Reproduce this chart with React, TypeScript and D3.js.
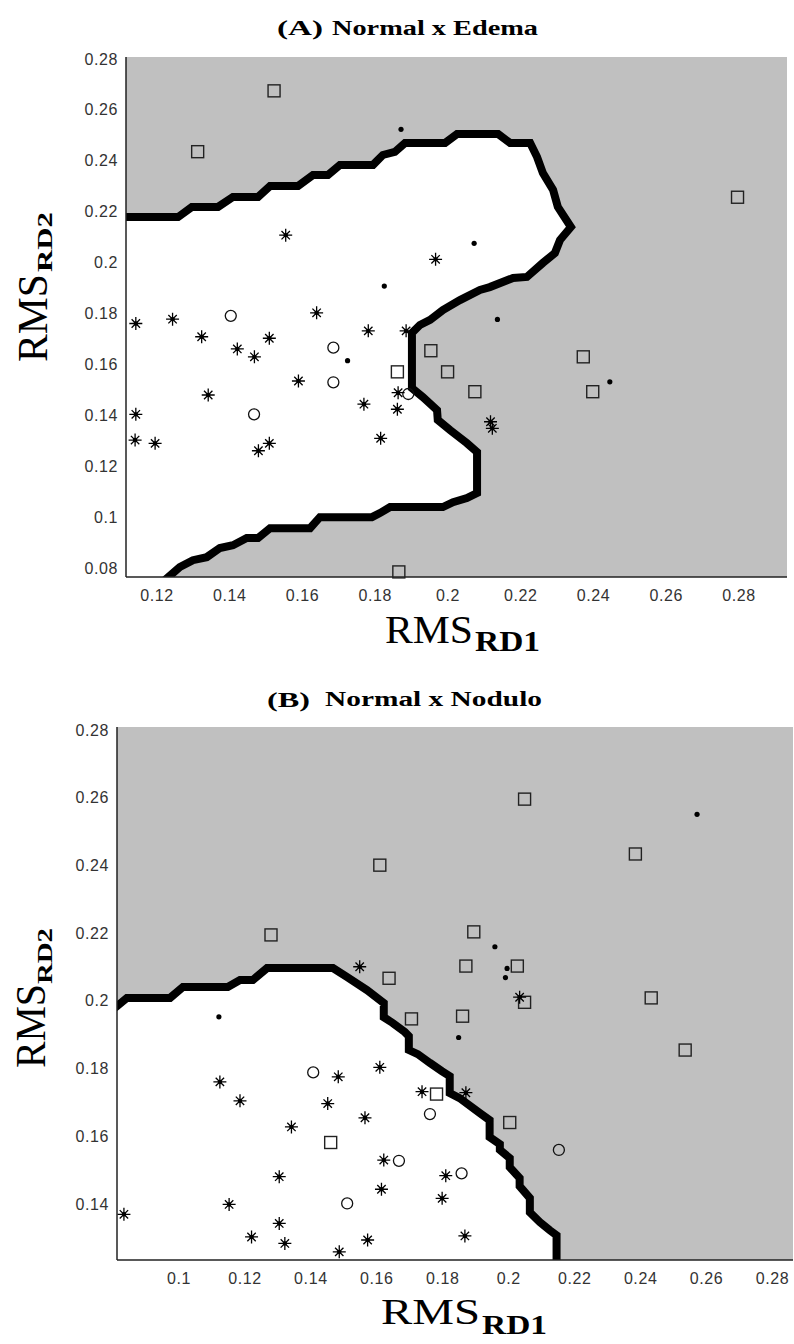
import React from 'react';
import * as d3 from 'd3';

type P = [number, number];

// ---------- Panel A : Normal x Edema ----------
const squaresA: P[] = [
  [0.1522, 0.2675], [0.1312, 0.2436], [0.2796, 0.2257], [0.1861, 0.1571], [0.1953, 0.1654],
  [0.1999, 0.1571], [0.2074, 0.1493], [0.2372, 0.1630], [0.2398, 0.1493], [0.1865, 0.0785],
];
const dotsA: P[] = [
  [0.1871, 0.2524], [0.2072, 0.2076], [0.1825, 0.1908], [0.2136, 0.1777], [0.1724, 0.1615], [0.2445, 0.1532],
];
const circlesA: P[] = [
  [0.1403, 0.1791], [0.1685, 0.1666], [0.1685, 0.1530], [0.1467, 0.1404], [0.1891, 0.1484],
];
const starsA: P[] = [
  [0.1554, 0.2108], [0.1966, 0.2013], [0.1142, 0.1761], [0.1243, 0.1778], [0.1639, 0.1803],
  [0.1323, 0.1709], [0.1509, 0.1703], [0.1421, 0.1661], [0.1468, 0.1630], [0.1781, 0.1732],
  [0.1885, 0.1732], [0.1589, 0.1535], [0.1341, 0.1480], [0.1142, 0.1404], [0.1140, 0.1303],
  [0.1195, 0.1290], [0.1509, 0.1290], [0.1479, 0.1261], [0.1769, 0.1444], [0.1815, 0.1310],
  [0.1863, 0.1489], [0.1861, 0.1424], [0.2117, 0.1375], [0.2122, 0.1349],
];
const boundaryA: P[] = [
  [0.1100, 0.2179], [0.1258, 0.2179], [0.1296, 0.2219], [0.1368, 0.2219], [0.1409, 0.2258],
  [0.1478, 0.2258], [0.1511, 0.2301], [0.1588, 0.2301], [0.1629, 0.2344], [0.1670, 0.2344],
  [0.1703, 0.2384], [0.1794, 0.2384], [0.1821, 0.2423], [0.1854, 0.2435], [0.1882, 0.2470],
  [0.1992, 0.2470], [0.2025, 0.2505], [0.2138, 0.2505], [0.2171, 0.2470], [0.2226, 0.2470],
  [0.2245, 0.2415], [0.2261, 0.2352], [0.2289, 0.2286], [0.2302, 0.2219], [0.2338, 0.2140],
  [0.2308, 0.2089], [0.2294, 0.2038], [0.2261, 0.1999], [0.2217, 0.1944], [0.2179, 0.1940],
  [0.2115, 0.1904], [0.2088, 0.1893], [0.2033, 0.1853], [0.1986, 0.1814], [0.1951, 0.1775],
  [0.1923, 0.1755], [0.1901, 0.1724], [0.1901, 0.1507], [0.1931, 0.1472], [0.1970, 0.1421],
  [0.1972, 0.1382], [0.2006, 0.1342], [0.2052, 0.1291], [0.2080, 0.1256], [0.2080, 0.1095],
  [0.2052, 0.1075], [0.2014, 0.1059], [0.1986, 0.1040], [0.1841, 0.1040], [0.1813, 0.1016],
  [0.1791, 0.1000], [0.1648, 0.1000], [0.1621, 0.0957], [0.1511, 0.0957], [0.1478, 0.0918],
  [0.1447, 0.0918], [0.1409, 0.0890], [0.1373, 0.0879], [0.1337, 0.0843], [0.1299, 0.0831],
  [0.1263, 0.0804], [0.1222, 0.0753],
];
const xTicksA = [0.12, 0.14, 0.16, 0.18, 0.2, 0.22, 0.24, 0.26, 0.28];
const yTicksA = [0.08, 0.1, 0.12, 0.14, 0.16, 0.18, 0.2, 0.22, 0.24, 0.26, 0.28];

// ---------- Panel B : Normal x Nodulo ----------
const squaresB: P[] = [
  [0.1279, 0.2195], [0.1609, 0.2401], [0.1637, 0.2067], [0.2048, 0.2596], [0.2384, 0.2434],
  [0.1894, 0.2204], [0.1870, 0.2103], [0.2026, 0.2103], [0.2048, 0.1996], [0.2432, 0.2009],
  [0.1705, 0.1947], [0.1860, 0.1955], [0.2535, 0.1855], [0.1781, 0.1725], [0.2003, 0.1641],
  [0.1460, 0.1582],
];
const dotsB: P[] = [
  [0.2571, 0.2551], [0.1958, 0.2160], [0.1995, 0.2096], [0.1990, 0.2069], [0.1848, 0.1892], [0.1121, 0.1953],
];
const circlesB: P[] = [
  [0.1407, 0.1789], [0.1761, 0.1666], [0.2152, 0.1560], [0.1667, 0.1528], [0.1857, 0.1491], [0.1510, 0.1402],
];
const starsB: P[] = [
  [0.1548, 0.2101], [0.2033, 0.2011], [0.1609, 0.1804], [0.1483, 0.1776], [0.1124, 0.1761],
  [0.1185, 0.1705], [0.1451, 0.1697], [0.1564, 0.1655], [0.1341, 0.1628], [0.1737, 0.1732],
  [0.1870, 0.1729], [0.1621, 0.1530], [0.1809, 0.1484], [0.1304, 0.1481], [0.1614, 0.1444],
  [0.1798, 0.1417], [0.1152, 0.1399], [0.0833, 0.1370], [0.1304, 0.1343], [0.1220, 0.1303],
  [0.1321, 0.1284], [0.1486, 0.1259], [0.1572, 0.1294], [0.1867, 0.1306],
];
const boundaryB: P[] = [
  [0.0800, 0.1975], [0.0842, 0.2009], [0.0973, 0.2009], [0.1012, 0.2041], [0.1148, 0.2041],
  [0.1185, 0.2062], [0.1224, 0.2062], [0.1267, 0.2097], [0.1467, 0.2097], [0.1509, 0.2071],
  [0.1570, 0.2032], [0.1621, 0.1994], [0.1621, 0.1952], [0.1648, 0.1935], [0.1685, 0.1908],
  [0.1697, 0.1896], [0.1697, 0.1855], [0.1724, 0.1843], [0.1761, 0.1817], [0.1797, 0.1793],
  [0.1821, 0.1778], [0.1821, 0.1728], [0.1851, 0.1713], [0.1912, 0.1669], [0.1942, 0.1648],
  [0.1942, 0.1598], [0.1973, 0.1577], [0.1973, 0.1560], [0.2003, 0.1536], [0.2003, 0.1509],
  [0.2033, 0.1477], [0.2033, 0.1453], [0.2064, 0.1418], [0.2064, 0.1376], [0.2094, 0.1347],
  [0.2124, 0.1323], [0.2145, 0.1308], [0.2145, 0.1200],
];
const xTicksB = [0.1, 0.12, 0.14, 0.16, 0.18, 0.2, 0.22, 0.24, 0.26, 0.28];
const yTicksB = [0.14, 0.16, 0.18, 0.2, 0.22, 0.24, 0.26, 0.28];

const fmt = (v: number) => String(+v.toFixed(2));

const starPath = 'M0,-6.5V6.5M-6.5,0H6.5M-4.2,-4.2L4.2,4.2M-4.2,4.2L4.2,-4.2';

interface PanelProps {
  id: string;
  left: number; top: number; right: number; bottom: number;
  xDomain: [number, number]; yDomain: [number, number];
  xTicks: number[]; yTicks: number[];
  squares: P[]; circles: P[]; stars: P[]; dots: P[]; boundary: P[];
}

function Panel(p: PanelProps) {
  const x = d3.scaleLinear().domain(p.xDomain).range([p.left, p.right]);
  const y = d3.scaleLinear().domain(p.yDomain).range([p.bottom, p.top]);
  const line = d3.line<P>().x(d => x(d[0])).y(d => y(d[1]));
  const last = p.boundary[p.boundary.length - 1];
  const poly: P[] = [...p.boundary, [p.boundary[0][0], last[1]]];
  const w = p.right - p.left, h = p.bottom - p.top;
  const tickFont = { fontFamily: '"Liberation Sans", Arial, sans-serif', fontSize: 16, fill: '#333', letterSpacing: 0.6 };
  return (
    <g>
      <defs>
        <clipPath id={p.id}><rect x={p.left} y={p.top} width={w} height={h} /></clipPath>
      </defs>
      <rect x={p.left} y={p.top} width={w} height={h} fill="#c0c0c0" />
      <g clipPath={`url(#${p.id})`}>
        <path d={line(poly) + 'Z'} fill="#fff" />
        <path d={line(p.boundary) || ''} fill="none" stroke="#000" strokeWidth={8} strokeLinejoin="miter" strokeMiterlimit={2} />
      </g>
      {p.squares.map((d, i) => (
        <rect key={'s' + i} x={x(d[0]) - 6} y={y(d[1]) - 6} width={12} height={12} fill="none" stroke="#222" strokeWidth={1.4} />
      ))}
      {p.circles.map((d, i) => (
        <circle key={'c' + i} cx={x(d[0])} cy={y(d[1])} r={5.5} fill="none" stroke="#111" strokeWidth={1.3} />
      ))}
      {p.stars.map((d, i) => (
        <g key={'t' + i} transform={`translate(${x(d[0])},${y(d[1])})`}>
          <path d={starPath} stroke="#000" strokeWidth={1.3} fill="none" />
          <circle r={2.2} fill="#000" />
        </g>
      ))}
      {p.dots.map((d, i) => (
        <circle key={'d' + i} cx={x(d[0])} cy={y(d[1])} r={2.6} fill="#000" />
      ))}
      <line x1={p.left} x2={p.left} y1={p.top} y2={p.bottom} stroke="#222" strokeWidth={1.5} />
      <line x1={p.left} x2={p.right} y1={p.bottom} y2={p.bottom} stroke="#222" strokeWidth={1.5} />
      {p.xTicks.map(t => (
        <text key={'xt' + t} x={x(t)} y={p.bottom + 18} textAnchor="middle" dominantBaseline="central" style={tickFont}>{fmt(t)}</text>
      ))}
      {p.yTicks.map(t => (
        <text key={'yt' + t} x={p.left - 8} y={y(t)} textAnchor="end" dominantBaseline="central" style={tickFont}>{fmt(t)}</text>
      ))}
    </g>
  );
}

const serif = '"Liberation Serif", "Times New Roman", serif';

export default function App() {
  return (
    <svg width={794} height={1344} style={{ position: 'absolute', left: 0, top: 0, background: '#fff' }}>
      <rect x={0} y={0} width={794} height={1344} fill="#fff" />
      {/* Panel A */}
      <text x={277} y={35} fontFamily={serif} fontWeight="bold" fontSize={22} textLength={46} lengthAdjust="spacingAndGlyphs">(A)</text>
      <text x={332} y={35} fontFamily={serif} fontWeight="bold" fontSize={20} textLength={206} lengthAdjust="spacingAndGlyphs">Normal x Edema</text>
      <Panel id="clipA" left={126} top={57} right={787} bottom={577}
        xDomain={[0.1115, 0.2932]} yDomain={[0.0765, 0.2808]}
        xTicks={xTicksA} yTicks={yTicksA}
        squares={squaresA} circles={circlesA} stars={starsA} dots={dotsA} boundary={boundaryA} />
      <text x={385} y={643} fontFamily={serif} fontSize={39} textLength={88} lengthAdjust="spacingAndGlyphs">RMS</text>
      <text x={475} y={651} fontFamily={serif} fontWeight="bold" fontSize={30} textLength={65} lengthAdjust="spacingAndGlyphs">RD1</text>
      <text transform="translate(47,362) rotate(-90)" fontFamily={serif} fontSize={43} textLength={88} lengthAdjust="spacingAndGlyphs">RMS</text>
      <text transform="translate(52,272) rotate(-90)" fontFamily={serif} fontWeight="bold" fontSize={22} textLength={60} lengthAdjust="spacingAndGlyphs">RD2</text>

      {/* Panel B */}
      <text x={267} y={707} fontFamily={serif} fontWeight="bold" fontSize={22} textLength={43} lengthAdjust="spacingAndGlyphs">(B)</text>
      <text x={325} y={706} fontFamily={serif} fontWeight="bold" fontSize={20} textLength={217} lengthAdjust="spacingAndGlyphs">Normal x Nodulo</text>
      <Panel id="clipB" left={117} top={727} right={793} bottom={1260}
        xDomain={[0.0812, 0.2862]} yDomain={[0.1235, 0.2809]}
        xTicks={xTicksB} yTicks={yTicksB}
        squares={squaresB} circles={circlesB} stars={starsB} dots={dotsB} boundary={boundaryB} />
      <text x={381} y={1324} fontFamily={serif} fontSize={36} textLength={99} lengthAdjust="spacingAndGlyphs">RMS</text>
      <text x={482} y={1334} fontFamily={serif} fontWeight="bold" fontSize={27} textLength={65} lengthAdjust="spacingAndGlyphs">RD1</text>
      <text transform="translate(45,1068) rotate(-90)" fontFamily={serif} fontSize={43} textLength={84} lengthAdjust="spacingAndGlyphs">RMS</text>
      <text transform="translate(52,984) rotate(-90)" fontFamily={serif} fontWeight="bold" fontSize={22} textLength={56} lengthAdjust="spacingAndGlyphs">RD2</text>
    </svg>
  );
}
